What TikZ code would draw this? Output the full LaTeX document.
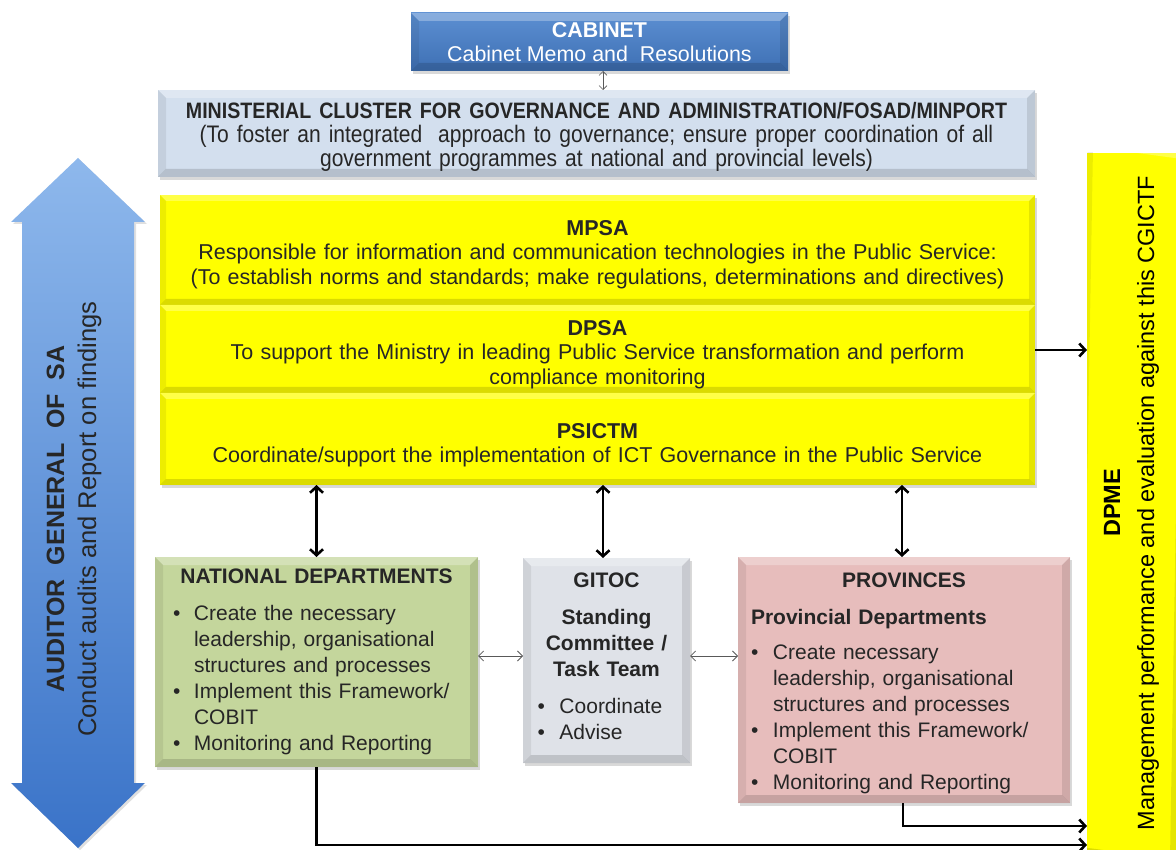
\documentclass[tikz,border=0pt]{standalone}
\usepackage{fontspec}
\setmainfont{Liberation Sans}
\newfontfamily\narrowfont[FakeStretch=0.88]{Liberation Sans}
\usetikzlibrary{arrows.meta,shadows,calc}
\definecolor{cabtop}{HTML}{5C8FD2}
\definecolor{cabbot}{HTML}{3E70B4}
\definecolor{minfill}{HTML}{D3DFEE}
\definecolor{ylw}{HTML}{FFFF00}
\definecolor{natgreen}{HTML}{C4D69C}
\definecolor{gitgray}{HTML}{DFE2E8}
\definecolor{provpink}{HTML}{E7BDBC}
\definecolor{agtop}{HTML}{8EB8EC}
\definecolor{agbot}{HTML}{3A73C8}
\definecolor{txt}{HTML}{262626}
\newcommand\nl{\hfil\break}
\newcommand\bul[1]{\par\noindent\hangindent=#1\hangafter=1\makebox[#1][l]{\textbullet}}
\newcommand\lift[1]{\rule{0pt}{#1}}
\tikzset{
  bevel/.style={path picture={
    \fill[white,opacity=0.28] (path picture bounding box.north west) -- (path picture bounding box.north east)
      -- ([xshift=-#1,yshift=-#1]path picture bounding box.north east) -- ([xshift=#1,yshift=-#1]path picture bounding box.north west) -- cycle;
    \fill[black,opacity=0.07] (path picture bounding box.north west) -- ([xshift=#1,yshift=-#1]path picture bounding box.north west)
      -- ([xshift=#1,yshift=#1]path picture bounding box.south west) -- (path picture bounding box.south west) -- cycle;
    \fill[black,opacity=0.10] (path picture bounding box.north east) -- ([xshift=-#1,yshift=-#1]path picture bounding box.north east)
      -- ([xshift=-#1,yshift=#1]path picture bounding box.south east) -- (path picture bounding box.south east) -- cycle;
    \fill[black,opacity=0.14] (path picture bounding box.south west) -- ([xshift=#1,yshift=#1]path picture bounding box.south west)
      -- ([xshift=-#1,yshift=#1]path picture bounding box.south east) -- (path picture bounding box.south east) -- cycle;
  }},
  box/.style={inner sep=0pt, outer sep=0pt, text=txt, bevel=#1,
    drop shadow={shadow xshift=2pt, shadow yshift=-3pt, opacity=0.3}},
  box/.default=8pt,
  ysec/.style={box=6pt, fill=ylw, minimum width=875pt, align=center, text width=860pt,
    font=\fontsize{21.5}{24.5}\selectfont},
  lowbox/.style={box, anchor=north west, align=left, font=\fontsize{21}{26}\selectfont},
  bigarr/.style={line width=2.6pt, {Straight Barb[length=6pt,width=13pt]}-{Straight Barb[length=6pt,width=13pt]}},
  onearr/.style={line width=2.6pt, -{Straight Barb[length=6pt,width=13pt]}},
  thinarr/.style={line width=0.8pt, draw=black!65, {Straight Barb[length=5pt,width=10pt]}-{Straight Barb[length=5pt,width=10pt]}},
}
\begin{document}
\begin{tikzpicture}[x=1pt,y=-1pt]
\useasboundingbox (0,0) rectangle (1176,850);
% Cabinet
\node[box, top color=cabtop, bottom color=cabbot, minimum width=377pt, minimum height=58pt, align=center, text=white,
  font=\fontsize{21.4}{25}\selectfont] (cab) at (599.5,42) {\textbf{CABINET}\\[-1pt] Cabinet Memo and\ \ Resolutions};
% Ministerial
\node[box, fill=minfill, minimum width=877pt, minimum height=87pt, align=center, text width=870pt,
  font=\narrowfont\fontsize{23.9}{24}\selectfont] (min) at (596.5,133.5)
  {\lift{22pt}{\fontsize{22.3}{24}\selectfont\bfseries MINISTERIAL CLUSTER FOR GOVERNANCE AND ADMINISTRATION/FOSAD/MINPORT}\\
   (To foster an integrated\ \ approach to governance; ensure proper coordination of all\\
   government programmes at national and provincial levels)};
\draw[thinarr, line width=0.6pt, {Straight Barb[length=4pt,width=8pt]}-{Straight Barb[length=4pt,width=8pt]}] (cab.south -| 603,0) -- (min.north -| 603,0);
% Yellow block
\node[ysec, minimum height=110pt, anchor=north west] (mpsa) at (160,195)
  {\lift{23.5pt}\textbf{MPSA}\\ Responsible\ for information and communication technologies in the Public Service:\\
   (To establish norms\ and standards; make regulations, determinations and directives)};
\node[ysec, minimum height=88pt, anchor=north] (dpsa) at (mpsa.south)
  {\lift{25.5pt}\textbf{DPSA}\\ To support\ the Ministry in leading Public Service transformation and perform\\ compliance monitoring};
\node[ysec, minimum height=92pt, anchor=north] (psictm) at (dpsa.south)
  {\lift{27.5pt}\textbf{PSICTM}\\ Coordinate/support\ the implementation of ICT Governance in the Public Service};
% DPME
\node[box=6pt, fill=ylw, rotate=90, minimum width=700pt, minimum height=89pt, align=center, text=black,
  font=\fontsize{23.5}{34}\selectfont] (dpme) at (1131.5,503)
  {\textbf{DPME}\\ Management performance and evaluation against this CGICTF};
% Auditor General arrow
\shade[top color=agtop, bottom color=agbot, drop shadow={shadow xshift=2pt, shadow yshift=-2pt, opacity=0.25}]
  (78,158) -- (145,222) -- (134,222) -- (134,783) -- (145,783) -- (78,848) -- (11,783) -- (22,783) -- (22,222) -- (11,222) -- cycle;
\node[rotate=90, align=center, text=txt, font=\fontsize{25}{32}\selectfont] (ag) at (74,519)
  {\textbf{AUDITOR\ \ GENERAL\ \ OF\ \ SA}\\ {\fontsize{25.6}{32}\selectfont Conduct audits and Report on findings}};
% Lower boxes
\node[lowbox, fill=natgreen, minimum width=323pt, minimum height=210pt, text width=287pt] (nat) at (155,557)
  {{\centering\textbf{NATIONAL DEPARTMENTS}\par}\vspace{11pt}
   \bul{21pt}Create the necessary\nl leadership, organisational\nl structures and processes
   \bul{21pt}Implement this Framework/\nl COBIT
   \bul{21pt}Monitoring and Reporting\par};
\node[lowbox, fill=gitgray, minimum width=167pt, minimum height=205pt, text width=138pt] (git) at (523,558)
  {{\centering\textbf{GITOC}\par\vspace{11pt}\textbf{Standing\\ Committee /\\ Task Team}\par}\vspace{11pt}
   \bul{22pt}Coordinate
   \bul{22pt}Advise\par\vspace*{8pt}};
\node[lowbox, fill=provpink, minimum width=332pt, minimum height=246pt, text width=306pt] (prov) at (738,557)
  {{\centering\lift{21pt}\textbf{PROVINCES}\par}\vspace{11pt}
   \noindent\textbf{Provincial Departments}\par\vspace{9pt}
   \bul{22pt}Create necessary\nl leadership, organisational\nl structures and processes
   \bul{22pt}Implement this Framework/\nl COBIT
   \bul{22pt}Monitoring and Reporting\par};
% Connectors
\draw[bigarr] (psictm.south -| nat.north) -- (nat.north);
\draw[bigarr] (psictm.south -| 603,0) -- (git.north -| 603,0);
\draw[bigarr] (psictm.south -| 902,0) -- (prov.north -| 902,0);
\draw[thinarr] (nat.east |- 0,656) -- (git.west |- 0,656);
\draw[thinarr] (git.east |- 0,656) -- (prov.west |- 0,656);
\draw[onearr] (dpsa.east |- 0,350) -- (dpme.north |- 0,350);
\draw[onearr] (nat.south) |- (dpme.north |- 0,845);
\draw[onearr] (prov.south -| 903,0) |- (dpme.north |- 0,826);
\end{tikzpicture}
\end{document}
